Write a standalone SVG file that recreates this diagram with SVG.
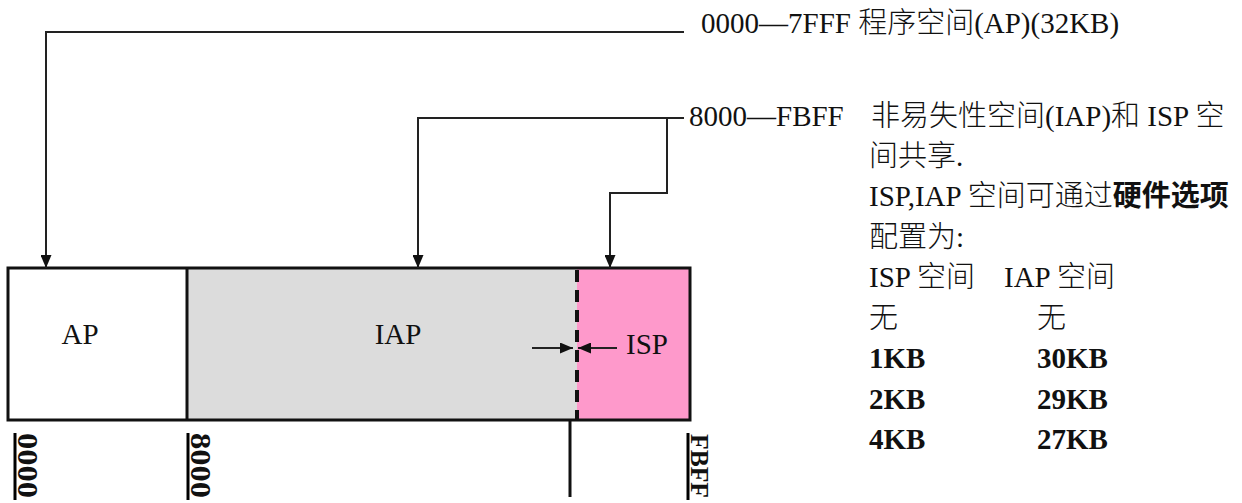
<svg xmlns="http://www.w3.org/2000/svg" width="1242" height="503" viewBox="0 0 1242 503">
<style>
.t{font-family:"Liberation Serif","Noto Sans CJK SC",serif;font-size:29px;font-weight:300;fill:#111}
.b{font-weight:bold}
.c{fill:none;stroke:#222;stroke-width:2}
.box{stroke:#111;stroke-width:3}
.bar{stroke:#000;stroke-width:3}
</style>
<defs>
<marker id="ah" markerUnits="userSpaceOnUse" markerWidth="13" markerHeight="11" refX="13" refY="5.5" orient="auto">
<path d="M0,0 L13,5.5 L0,11 z" fill="#111"/>
</marker>
</defs>
<rect width="1242" height="503" fill="#fff"/>

<g id="node-ap">
<rect x="8" y="268" width="179" height="152" fill="#fff"/>
<text class="t" x="80" y="344" text-anchor="middle">AP</text>
</g>
<g id="node-iap">
<rect x="187" y="268" width="390" height="152" fill="#dcdcdc"/>
<text class="t" x="398" y="344" text-anchor="middle">IAP</text>
</g>
<g id="node-isp">
<rect x="577" y="268" width="113" height="152" fill="#fe99cb"/>
<text class="t" x="626" y="354">ISP</text>
</g>
<g id="outline">
<rect class="box" x="8" y="268" width="682" height="152" fill="none"/>
<line class="box" x1="187" y1="268" x2="187" y2="420"/>
<line x1="577" y1="270" x2="577" y2="420" stroke="#111" stroke-width="4" stroke-dasharray="12 8"/>
</g>

<g id="connectors">
<path class="c" d="M684,32 H46 V268" marker-end="url(#ah)"/>
<path class="c" d="M684,118 H418 V268" marker-end="url(#ah)"/>
<path class="c" d="M667,118 V193 H610 V268" marker-end="url(#ah)"/>
<path class="c" d="M532,348 H573" marker-end="url(#ah)"/>
<path class="c" d="M617,348 H578" marker-end="url(#ah)"/>
<path d="M570,420 V497" stroke="#111" stroke-width="3"/>
</g>

<g id="addr-0000">
<line class="bar" x1="15" y1="433" x2="15" y2="500"/>
<text class="t b" transform="translate(18,433) rotate(90)" textLength="65" lengthAdjust="spacingAndGlyphs">0000</text>
</g>
<g id="addr-8000">
<line class="bar" x1="188" y1="433" x2="188" y2="500"/>
<text class="t b" transform="translate(191,433) rotate(90)" textLength="65" lengthAdjust="spacingAndGlyphs">8000</text>
</g>
<g id="addr-fbff">
<line class="bar" x1="688" y1="433" x2="688" y2="500"/>
<text class="t b" style="font-size:26px" transform="translate(691,434) rotate(90)" textLength="64" lengthAdjust="spacingAndGlyphs">FBFF</text>
</g>

<g id="label-ap">
<text class="t" x="701" y="33">0000—7FFF 程序空间(AP)(32KB)</text>
</g>
<g id="label-iap-isp">
<text class="t" x="689" y="126">8000—FBFF</text>
<text class="t" x="871" y="126">非易失性空间(IAP)和 ISP 空</text>
<text class="t" x="869" y="166">间共享.</text>
<text class="t" x="869" y="206">ISP,IAP 空间可通过<tspan class="b">硬件选项</tspan></text>
<text class="t" x="869" y="247">配置为:</text>
<text class="t" x="869" y="287">ISP 空间</text>
<text class="t" x="1004" y="287">IAP 空间</text>
<text class="t" x="869" y="328">无</text>
<text class="t" x="1037" y="328">无</text>
<text class="t b" x="869" y="368">1KB</text>
<text class="t b" x="1037" y="368">30KB</text>
<text class="t b" x="869" y="409">2KB</text>
<text class="t b" x="1037" y="409">29KB</text>
<text class="t b" x="869" y="449">4KB</text>
<text class="t b" x="1037" y="449">27KB</text>
</g>
</svg>
